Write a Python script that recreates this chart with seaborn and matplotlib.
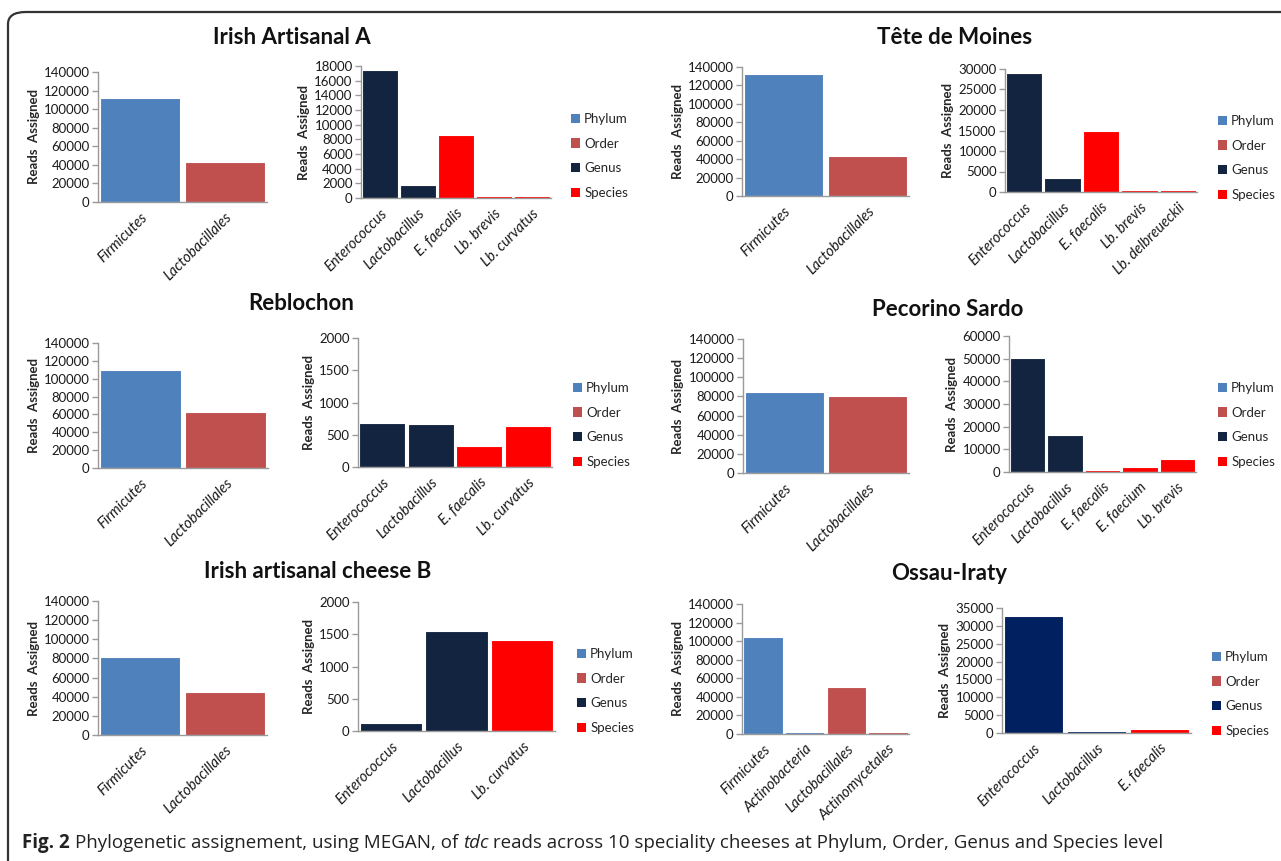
import numpy as np
import pandas as pd
import matplotlib
matplotlib.use("Agg")
import matplotlib.pyplot as plt
import matplotlib.patches as mpatches
from matplotlib.ticker import StrMethodFormatter
import seaborn as sns

# ---- data ----
levels = ["Phylum", "Order", "Genus", "Species"]

irish_a_top_taxa = ["Firmicutes", "Lactobacillales"]
irish_a_top_level = ["Phylum", "Order"]
irish_a_top_reads = [111500, 43000]
irish_a_low_taxa = ["Enterococcus", "Lactobacillus", "E. faecalis", "Lb. brevis", "Lb. curvatus"]
irish_a_low_level = ["Genus", "Genus", "Species", "Species", "Species"]
irish_a_low_reads = [17400, 1750, 8600, 250, 250]

tete_top_taxa = ["Firmicutes", "Lactobacillales"]
tete_top_level = ["Phylum", "Order"]
tete_top_reads = [132000, 43000]
tete_low_taxa = ["Enterococcus", "Lactobacillus", "E. faecalis", "Lb. brevis", "Lb. delbreueckii"]
tete_low_level = ["Genus", "Genus", "Species", "Species", "Species"]
tete_low_reads = [29000, 3300, 14800, 450, 450]

reblochon_top_taxa = ["Firmicutes", "Lactobacillales"]
reblochon_top_level = ["Phylum", "Order"]
reblochon_top_reads = [110000, 63000]
reblochon_low_taxa = ["Enterococcus", "Lactobacillus", "E. faecalis", "Lb. curvatus"]
reblochon_low_level = ["Genus", "Genus", "Species", "Species"]
reblochon_low_reads = [680, 665, 330, 630]

pecorino_top_taxa = ["Firmicutes", "Lactobacillales"]
pecorino_top_level = ["Phylum", "Order"]
pecorino_top_reads = [84500, 80000]
pecorino_low_taxa = ["Enterococcus", "Lactobacillus", "E. faecalis", "E. faecium", "Lb. brevis"]
pecorino_low_level = ["Genus", "Genus", "Species", "Species", "Species"]
pecorino_low_reads = [50300, 16500, 800, 2400, 5600]

irish_b_top_taxa = ["Firmicutes", "Lactobacillales"]
irish_b_top_level = ["Phylum", "Order"]
irish_b_top_reads = [81500, 45000]
irish_b_low_taxa = ["Enterococcus", "Lactobacillus", "Lb. curvatus"]
irish_b_low_level = ["Genus", "Genus", "Species"]
irish_b_low_reads = [120, 1550, 1410]

ossau_top_taxa = ["Firmicutes", "Actinobacteria", "Lactobacillales", "Actinomycetales"]
ossau_top_level = ["Phylum", "Phylum", "Order", "Order"]
ossau_top_reads = [105000, 2000, 51000, 2000]
ossau_low_taxa = ["Enterococcus", "Lactobacillus", "E. faecalis"]
ossau_low_level = ["Genus", "Genus", "Species"]
ossau_low_reads = [32800, 500, 1000]

palette = {"Phylum": "#4F81BD", "Order": "#C0504D", "Genus": "#12243F", "Species": "#FF0000"}
palette_ossau = dict(palette, Genus="#002060")

# ---- figure ----
W, H = 1281, 861
sns.set_style("white")
plt.rcParams['font.family'] = ['Lato', 'DejaVu Sans']
fig = plt.figure(figsize=(W / 100, H / 100), dpi=100)


def px_axes(x0, y0, x1, y1):
    return fig.add_axes([x0 / W, 1 - y1 / H, (x1 - x0) / W, (y1 - y0) / H])


def draw_bars(ax, taxa, level, reads, ymax, step, pal):
    df = pd.DataFrame({"taxon": taxa, "level": level, "reads": reads})
    sns.barplot(data=df, x="taxon", y="reads", hue="level", palette=pal,
                dodge=False, width=0.95, saturation=1, edgecolor="white",
                linewidth=0.8, legend=False, ax=ax)
    ax.set_ylim(0, ymax)
    ax.set_yticks(np.arange(0, ymax + 1, step))
    ax.yaxis.set_major_formatter(StrMethodFormatter("{x:.0f}"))
    ax.set_xlabel("")
    ax.set_ylabel("Reads  Assigned", fontsize=9.5, fontweight="bold", labelpad=3)
    for s in ["top", "right"]:
        ax.spines[s].set_visible(False)
    for s in ["left", "bottom"]:
        ax.spines[s].set_color("#9a9a9a")
        ax.spines[s].set_linewidth(1)
    ax.tick_params(axis="y", left=True, length=4, width=1, color="#9a9a9a",
                   labelsize=9.5, pad=2, labelcolor="#1a1a1a")
    ax.tick_params(axis="x", bottom=False, length=0, pad=6, labelcolor="#1a1a1a")
    for lab in ax.get_xticklabels():
        lab.set_rotation(45)
        lab.set_ha("right")
        lab.set_rotation_mode("anchor")
        lab.set_fontstyle("italic")
        lab.set_fontsize(10.5)


def add_legend(x, yc, pal):
    handles = [mpatches.Patch(facecolor=pal[l], edgecolor="none", label=l) for l in levels]
    fig.legend(handles=handles, loc="center left", bbox_to_anchor=(x / W, 1 - yc / H),
               frameon=False, fontsize=9.5, handlelength=0.7, handleheight=0.7,
               handletextpad=0.3, labelspacing=0.95, borderpad=0, borderaxespad=0)


panels = [
    ("Irish Artisanal A", (292, 37),
     (98, 72, 267, 202), irish_a_top_taxa, irish_a_top_level, irish_a_top_reads,
     (361, 66, 551, 198), irish_a_low_taxa, irish_a_low_level, irish_a_low_reads, 18000, 2000,
     (571, 156), palette),
    ("Tête de Moines", (955, 37),
     (742, 67, 909, 196), tete_top_taxa, tete_top_level, tete_top_reads,
     (1005, 69, 1197, 192), tete_low_taxa, tete_low_level, tete_low_reads, 30000, 5000,
     (1218, 158), palette),
    ("Reblochon", (301, 303),
     (98, 343, 268, 468), reblochon_top_taxa, reblochon_top_level, reblochon_top_reads,
     (358, 338, 552, 467), reblochon_low_taxa, reblochon_low_level, reblochon_low_reads, 2000, 500,
     (573, 425), palette),
    ("Pecorino Sardo", (948, 310),
     (743, 339, 909, 473), pecorino_top_taxa, pecorino_top_level, pecorino_top_reads,
     (1009, 336, 1196, 472), pecorino_low_taxa, pecorino_low_level, pecorino_low_reads, 60000, 10000,
     (1218, 425), palette),
    ("Irish artisanal cheese B", (318, 571),
     (98, 601, 267, 735), irish_b_top_taxa, irish_b_top_level, irish_b_top_reads,
     (358, 602, 555, 731), irish_b_low_taxa, irish_b_low_level, irish_b_low_reads, 2000, 500,
     (577, 691), palette),
    ("Ossau-Iraty", (949, 573),
     (742, 604, 909, 734), ossau_top_taxa, ossau_top_level, ossau_top_reads,
     (1002, 608, 1191, 733), ossau_low_taxa, ossau_low_level, ossau_low_reads, 35000, 5000,
     (1212, 694), palette_ossau),
]

for (title, tpos, box1, t1, l1, r1, box2, t2, l2, r2, ymax2, step2, lpos, pal) in panels:
    ax1 = px_axes(*box1)
    draw_bars(ax1, t1, l1, r1, 140000, 20000, pal)
    ax2 = px_axes(*box2)
    draw_bars(ax2, t2, l2, r2, ymax2, step2, pal)
    fig.text(tpos[0] / W, 1 - tpos[1] / H, title, ha="center", va="center",
             fontsize=16, fontweight="bold", color="#111111")
    add_legend(lpos[0], lpos[1], pal)

# outer frame (only top and left visible)
frame = mpatches.FancyBboxPatch((8 / W, -0.2), 1.2, 1 - 12 / H + 0.2,
                                boxstyle="round,pad=0,rounding_size=0.014",
                                transform=fig.transFigure, facecolor="none",
                                edgecolor="#333333", linewidth=1.6, clip_on=False)
fig.add_artist(frame)

# caption with mixed styles
renderer = fig.canvas.get_renderer()
cap_parts = [("Fig. 2 ", "bold", "normal"),
             ("Phylogenetic assignement, using MEGAN, of ", "normal", "normal"),
             ("tdc", "normal", "italic"),
             (" reads across 10 speciality cheeses at Phylum, Order, Genus and Species level", "normal", "normal")]
x = 22
for txt, weight, style in cap_parts:
    t = fig.text(x / W, 1 - 843 / H, txt, ha="left", va="center", fontsize=13.5,
                 fontweight=weight, fontstyle=style, color="#222222",
                 family=["Open Sans", "DejaVu Sans"])
    bb = t.get_window_extent(renderer=renderer)
    x += bb.width

fig.savefig("out.png", dpi=100, facecolor="white")
